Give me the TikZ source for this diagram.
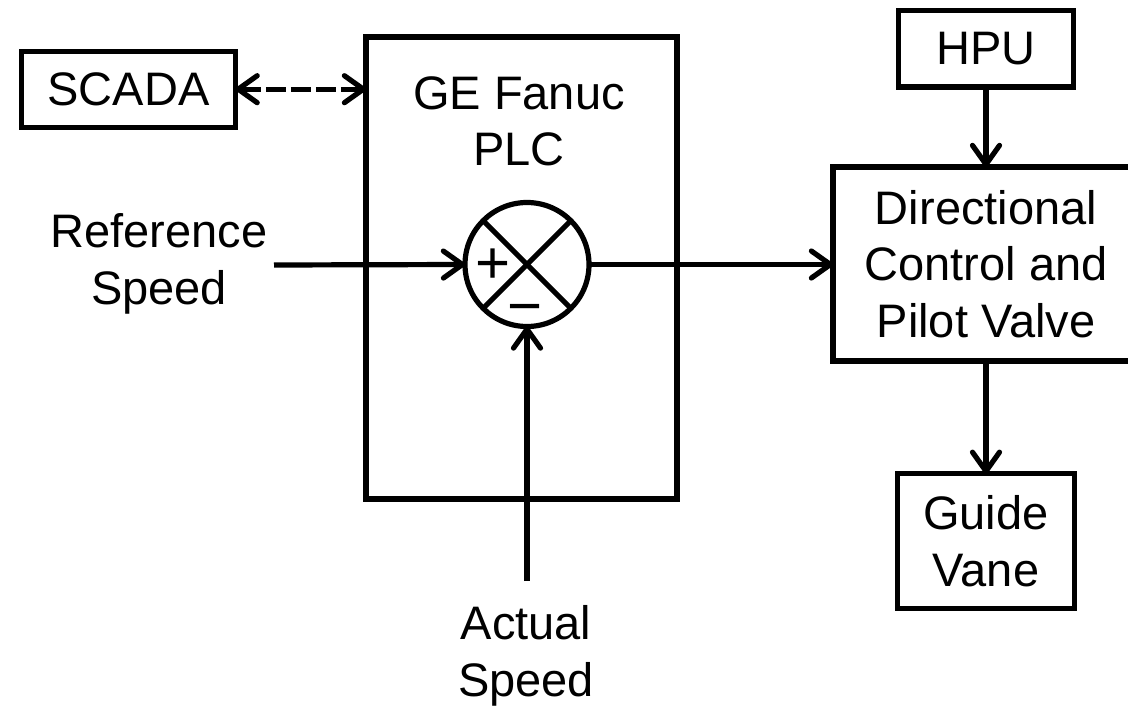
\documentclass[tikz,border=0pt]{standalone}
\usepackage{fontspec}
\setmainfont{Liberation Sans}
\usetikzlibrary{arrows.meta}
\begin{document}
\begin{tikzpicture}[x=1pt,y=-1pt,
  line width=5.2pt,
  every node/.style={font=\fontsize{47}{56.5}\selectfont, inner sep=0pt, outer sep=0pt},
  blk/.style={draw, rectangle, align=center},
  lbl/.style={align=center},
  sgn/.style={font=\fontsize{60}{64}\selectfont, anchor=base},
  tip/.tip={Straight Barb[length=19pt,width=27pt,round]},
  arr/.style={-tip},
  darr/.style={tip-tip, dash pattern=on 20pt off 5pt},
]
\useasboundingbox (0,0) rectangle (1128,706);
\clip (0,0) rectangle (1128,706);

\node[blk, minimum width=214pt, minimum height=76pt] (scada) at (128.6,89.2) {SCADA};
\node[blk, minimum width=311pt, minimum height=462pt] (plc) at (521.5,268) {};
\node[lbl] (plctxt) at (519,121.3) {GE Fanuc\\PLC};
\node[draw, circle, minimum size=124pt] (sum) at (527,264.5) {};
\draw (sum.north west) -- (sum.south east);
\draw (sum.north east) -- (sum.south west);
\node[sgn] (plus) at (493,283) {+};
\node[sgn] (minus) at (525,326) {−};

\node[lbl] (ref) at (159,264) {Reference\\Speed};
\coordinate (refstart) at (274,265);
\draw[arr] (refstart) -- (sum.west);

\node[lbl] (act) at (526,656) {Actual\\Speed};
\coordinate (actstart) at (527,581);
\draw[arr] (actstart) -- (sum.south);

\node[blk, minimum width=306pt, minimum height=194pt] (dcv) at (986,264) {Directional\\Control and\\Pilot Valve};
\draw[arr] (sum.east) -- (sum.east -| dcv.west);

\node[blk, minimum width=175pt, minimum height=76.5pt] (hpu) at (986,48.8) {HPU};
\draw[arr] (hpu.south) -- (dcv.north);

\node[blk, minimum width=176.5pt, minimum height=135pt] (gv) at (986,541.3) {Guide\\Vane};
\draw[arr] (dcv.south) -- (gv.north);

\draw[darr] (scada.east) -- (scada.east -| plc.west);
\end{tikzpicture}
\end{document}
